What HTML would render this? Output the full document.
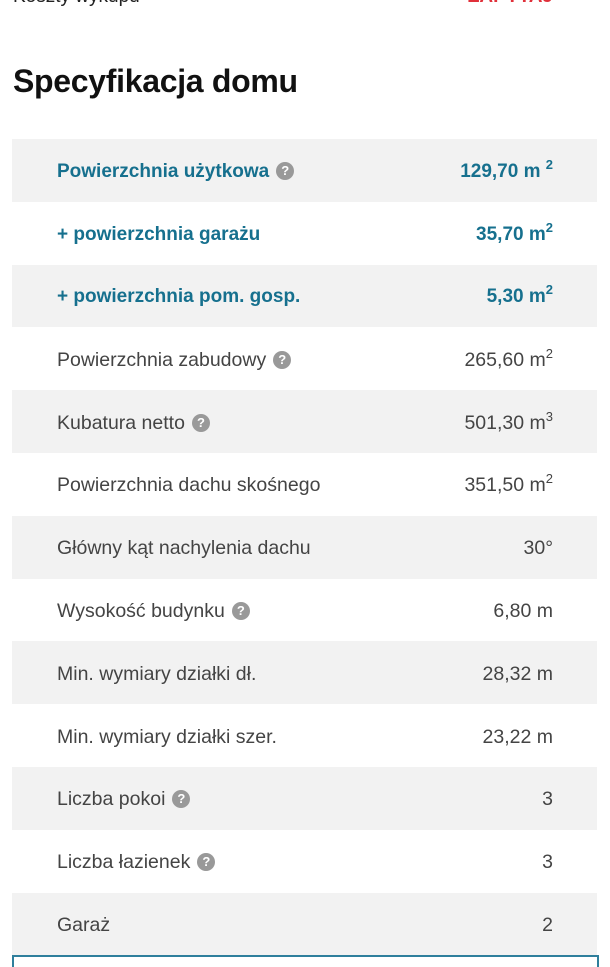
<!DOCTYPE html>
<html><head><meta charset="utf-8"><style>
body{margin:0;width:610px;height:960px;overflow:hidden;background:#fff;font-family:"Liberation Sans",sans-serif;position:relative}
.top{position:absolute;top:-14px;font-size:19px;color:#222}
h1{position:absolute;left:13px;top:63px;margin:0;font-size:32px;font-weight:bold;color:#111;letter-spacing:-0.3px}
.t{position:absolute;left:12px;top:139px;width:585px}
.r{height:62.8px;box-sizing:border-box;padding-top:3px;display:flex;align-items:center;justify-content:space-between;padding-left:45px;padding-right:44px;font-size:19.5px;color:#444}
.r:nth-child(odd){background:#f2f2f2}
.b{color:#16708e;font-weight:bold;font-size:19px}
.q{display:inline-block;width:18px;height:18px;border-radius:50%;background:#999;color:#fff;font-size:13px;font-weight:bold;text-align:center;line-height:18px;margin-left:7px;vertical-align:2px}
sup{font-size:13px;vertical-align:8px;line-height:0}
.bot{position:absolute;left:12px;top:955px;width:583px;height:10px;border:2px solid #2f7f9c;border-bottom:none}
</style></head><body>
<div class="top" style="left:13px">Koszty wykupu</div>
<div class="top" style="right:57px;color:#e0303a;font-weight:bold">ZAPYTAJ</div>
<h1>Specyfikacja domu</h1>
<div class="t">
<div class="r b"><span>Powierzchnia użytkowa<span class="q">?</span></span><span>129,70 m <sup>2</sup></span></div>
<div class="r b"><span>+ powierzchnia garażu</span><span>35,70 m<sup>2</sup></span></div>
<div class="r b"><span>+ powierzchnia pom. gosp.</span><span>5,30 m<sup>2</sup></span></div>
<div class="r"><span>Powierzchnia zabudowy<span class="q">?</span></span><span>265,60 m<sup>2</sup></span></div>
<div class="r"><span>Kubatura netto<span class="q">?</span></span><span>501,30 m<sup>3</sup></span></div>
<div class="r"><span>Powierzchnia dachu skośnego</span><span>351,50 m<sup>2</sup></span></div>
<div class="r"><span>Główny kąt nachylenia dachu</span><span>30°</span></div>
<div class="r"><span>Wysokość budynku<span class="q">?</span></span><span>6,80 m</span></div>
<div class="r"><span>Min. wymiary działki dł.</span><span>28,32 m</span></div>
<div class="r"><span>Min. wymiary działki szer.</span><span>23,22 m</span></div>
<div class="r"><span>Liczba pokoi<span class="q">?</span></span><span>3</span></div>
<div class="r"><span>Liczba łazienek<span class="q">?</span></span><span>3</span></div>
<div class="r"><span>Garaż</span><span>2</span></div>
</div>
<div class="bot"></div>
</body></html>
